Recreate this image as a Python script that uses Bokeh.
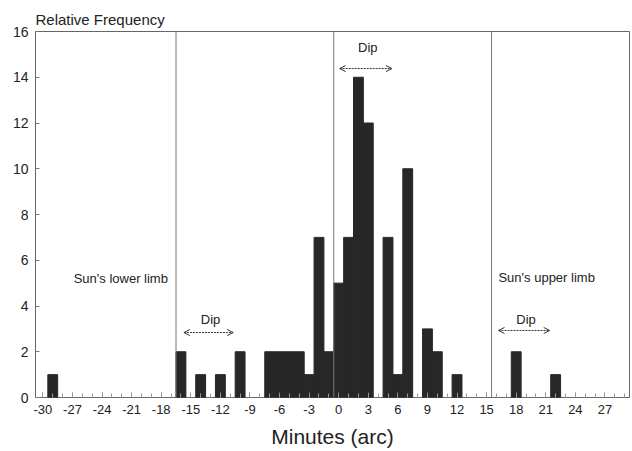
from bokeh.plotting import figure
from bokeh.models import Span, Label, Arrow, OpenHead, FixedTicker, Range1d, Title
from bokeh.embed import file_html
from bokeh.resources import INLINE

# ---- data ----
minutes = [-29, -16, -14, -12, -10, -7, -6, -5, -4, -3, -2, -1, 0, 1, 2, 3,
           5, 6, 7, 9, 10, 12, 18, 22]
frequency = [1, 2, 1, 1, 2, 2, 2, 2, 2, 1, 7, 2, 5, 7, 14, 12,
             7, 1, 10, 3, 2, 1, 2, 1]
x_ticks = list(range(-30, 28, 3))
x_tick_labels = [str(t) for t in x_ticks]
y_ticks = list(range(0, 17, 2))
limb_lines = [-16.5, -0.5, 15.5]

FONT = "Liberation Sans"
TXT = "#222222"

p = figure(width=632, height=451, output_backend="svg", toolbar_location=None,
           x_range=Range1d(-30.75, 29.49), y_range=Range1d(0, 16),
           min_border_left=35, min_border_right=3, min_border_top=31,
           min_border_bottom=54)
p.background_fill_color = "white"
p.border_fill_color = "white"
p.outline_line_color = "#666666"
p.outline_line_width = 1
p.xgrid.visible = False
p.ygrid.visible = False

p.add_layout(Title(text="Relative Frequency", align="left", text_font=FONT,
                   text_font_size="15px", text_font_style="normal",
                   text_color=TXT, standoff=8), "above")

p.vbar(x=minutes, top=frequency, width=1.0, bottom=0,
       fill_color="#272727", line_color="#272727", line_width=1)

for xv in limb_lines:
    p.add_layout(Span(location=xv, dimension="height", line_color="#777777",
                      line_width=1))

# axes
xa = p.xaxis[0]
xa.ticker = FixedTicker(ticks=x_ticks, minor_ticks=list(range(-30, 30)))
xa.major_label_overrides = {t: s for t, s in zip(x_ticks, x_tick_labels)}
xa.axis_line_color = None
xa.major_tick_in = 5
xa.major_tick_out = 0
xa.minor_tick_in = 4
xa.minor_tick_out = 0
xa.major_tick_line_color = "#777777"
xa.minor_tick_line_color = "#999999"
xa.major_label_standoff = 7
xa.major_label_text_font = FONT
xa.major_label_text_font_size = "13px"
xa.major_label_text_color = TXT
xa.axis_label = "Minutes (arc)"
xa.axis_label_text_font = FONT
xa.axis_label_text_font_size = "21px"
xa.axis_label_text_font_style = "normal"
xa.axis_label_text_color = TXT
xa.axis_label_standoff = 8

ya = p.yaxis[0]
ya.ticker = FixedTicker(ticks=y_ticks, minor_ticks=[])
ya.axis_line_color = None
ya.major_tick_in = 4
ya.major_tick_out = 0
ya.minor_tick_line_color = None
ya.major_tick_line_color = "#777777"
ya.major_label_standoff = 7
ya.major_label_text_font = FONT
ya.major_label_text_font_size = "14px"
ya.major_label_text_color = TXT

def lab(x, y, text, size="13px", align="left", baseline="middle"):
    p.add_layout(Label(x=x, y=y, text=text, text_font=FONT, text_font_size=size,
                       text_color=TXT, text_align=align, text_baseline=baseline))

lab(-22.1, 5.2, "Sun's lower limb", align="center")
lab(16.2, 5.25, "Sun's upper limb")

# Dip arrows
for xs, xe, ya_, yl in [(-15.7, -10.7, 2.84, 3.43), (0.1, 5.4, 14.38, 15.3),
                        (16.2, 21.4, 2.93, 3.43)]:
    p.add_layout(Arrow(start=OpenHead(size=6, line_width=1, line_color="#333333"),
                       end=OpenHead(size=6, line_width=1, line_color="#333333"),
                       x_start=xs, y_start=ya_, x_end=xe, y_end=ya_,
                       line_dash="2 1", line_width=1, line_color="#333333"))
    lab((xs + xe) / 2 + 0.2, yl, "Dip", align="center")

open("out.html", "w").write(file_html(p, INLINE))
